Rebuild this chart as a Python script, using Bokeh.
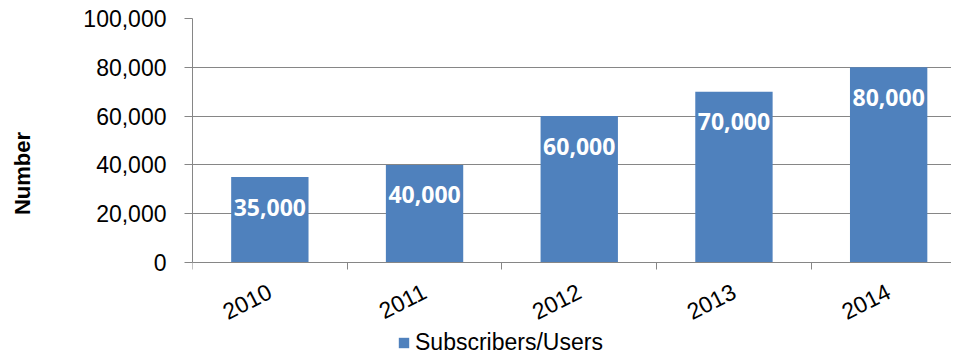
import math
from bokeh.plotting import figure
from bokeh.layouts import column
from bokeh.models import (FixedTicker, Range1d, NumeralTickFormatter, ColumnDataSource,
                          Legend, LegendItem)
from bokeh.core.properties import value
from bokeh.embed import file_html
from bokeh.resources import INLINE

years = ["2010", "2011", "2012", "2013", "2014"]
subscribers = [35000, 40000, 60000, 70000, 80000]
y_ticks = [0, 20000, 40000, 60000, 80000, 100000]
series_name = "Subscribers/Users"
axis_title = "Number"

centers = [i + 0.5 for i in range(len(years))]
bounds = [i for i in range(len(years) + 1)]
labels = [f"{v:,}" for v in subscribers]

src = ColumnDataSource(dict(x=centers, top=subscribers, label=labels))

GRAY = "#868686"
BLUE = "#4F81BD"

W, H = 951, 356
LEG_H = 28
MAIN_H = H - LEG_H
LEFT, TOP = 192, 18
ZERO_PX = 262      # screen y of value 0
px_per_unit = (ZERO_PX - TOP) / y_ticks[-1]
y_start = -(MAIN_H - ZERO_PX) / px_per_unit
cat_px = 154.7
x_end = (W - LEFT) / cat_px

p = figure(width=W, height=MAIN_H, output_backend="svg", toolbar_location=None,
           x_range=Range1d(0, x_end), y_range=Range1d(y_start, y_ticks[-1]),
           min_border_left=LEFT, min_border_right=0, min_border_top=TOP,
           min_border_bottom=0)
p.outline_line_color = None
p.xgrid.visible = False
p.ygrid.grid_line_color = GRAY
p.ygrid.grid_line_width = 1
p.ygrid.ticker = FixedTicker(ticks=y_ticks)

bar_style = dict(fill_color=BLUE, line_color=None)
bars = p.vbar(x="x", top="top", width=0.5, bottom=0, source=src, **bar_style)

p.text(x="x", y="top", text="label", source=src, y_offset=30,
       text_align="center", text_baseline="middle", text_color="white",
       text_font=value("Open Sans"), text_font_style="bold",
       text_font_size="23px")

# y axis
ya = p.yaxis[0]
ya.ticker = FixedTicker(ticks=y_ticks)
ya.bounds = (y_ticks[0], y_ticks[-1])
ya.formatter = NumeralTickFormatter(format="0,0")
ya.axis_line_color = GRAY
ya.major_tick_line_color = GRAY
ya.major_tick_out = 8
ya.major_tick_in = 0
ya.minor_tick_line_color = None
ya.major_label_standoff = 18
ya.major_label_text_font = "Liberation Sans"
ya.major_label_text_font_size = "23px"
ya.major_label_text_color = "black"
ya.axis_label = axis_title
ya.axis_label_text_font = "Liberation Sans"
ya.axis_label_text_font_style = "bold"
ya.axis_label_text_font_size = "22px"
ya.axis_label_text_color = "black"
ya.axis_label_standoff = 45

# x axis, drawn at value 0 inside the frame
xa = p.xaxis[0]
xa.fixed_location = 0
xa.ticker = FixedTicker(ticks=centers, minor_ticks=bounds)
xa.major_label_overrides = {c: y for c, y in zip(centers, years)}
xa.axis_line_color = GRAY
xa.major_tick_out = 0
xa.major_tick_in = 0
xa.minor_tick_out = 7
xa.minor_tick_in = 0
xa.minor_tick_line_color = GRAY
xa.major_label_orientation = math.radians(27)
xa.major_label_standoff = 20
xa.major_label_text_font = "Liberation Sans"
xa.major_label_text_font_size = "23px"
xa.major_label_text_color = "black"

# legend strip below the chart (its bars lie fully outside its own view)
lf = figure(width=W, height=LEG_H, output_backend="svg", toolbar_location=None,
            x_range=Range1d(-20, -10), y_range=Range1d(-2, -1), min_border=0)
lf.axis.visible = False
lf.grid.visible = False
lf.outline_line_color = None
leg_bar = lf.vbar(x="x", top="top", width=0.5, bottom=0, source=src, **bar_style)
legend = Legend(items=[LegendItem(label=series_name, renderers=[leg_bar])],
                orientation="horizontal", location=(205, 0),
                glyph_width=13, glyph_height=13, label_standoff=5,
                label_text_font="Liberation Sans", label_text_font_size="23px",
                label_text_color="black", padding=0, margin=0, spacing=0,
                border_line_color=None, background_fill_alpha=0)
lf.add_layout(legend)

layout = column(p, lf, spacing=0)
open("out.html", "w").write(file_html(layout, INLINE))
